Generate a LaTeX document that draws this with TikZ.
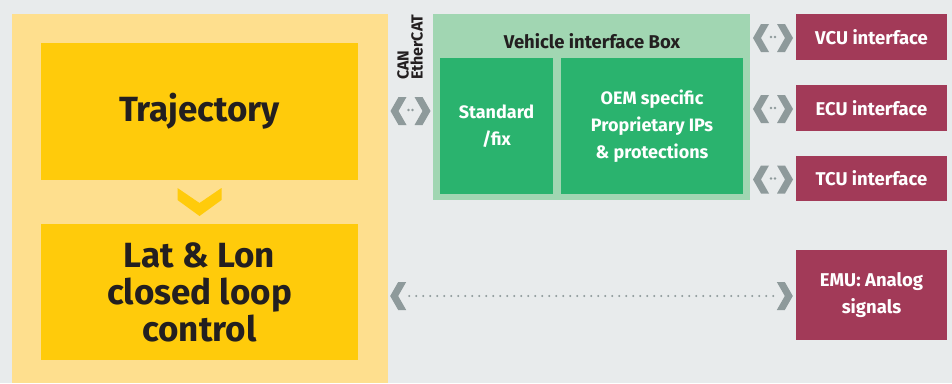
\documentclass[tikz,border=0pt]{standalone}
\usepackage{fontspec}
\setmainfont{Fira Sans}
\usetikzlibrary{calc}

\definecolor{bggrey}{HTML}{E8EBEC}
\definecolor{paleyellow}{HTML}{FEDF8E}
\definecolor{sunyellow}{HTML}{FFCB0B}
\definecolor{palegreen}{HTML}{A1D6B2}
\definecolor{boxgreen}{HTML}{2AB36E}
\definecolor{crimson}{HTML}{A23A58}
\definecolor{linkgrey}{HTML}{8E9A9B}
\definecolor{ink}{HTML}{231F20}

\tikzset{
	box/.style={rectangle, inner sep=0pt, align=center, font=\bfseries},
	ctrlbox/.style={box, fill=sunyellow, text=ink, minimum width=317, minimum height=136,
		font=\bfseries\fontsize{35}{37}\selectfont},
	ifbox/.style={box, fill=boxgreen, text=white, minimum height=136,
		font=\bfseries\fontsize{18}{27}\selectfont},
	ecubox/.style={box, fill=crimson, text=white, minimum width=151, minimum height=46,
		font=\bfseries\fontsize{18.5}{27}\selectfont},
	dotline/.style={linkgrey, line width=2.2, line cap=round, dash pattern=on 0pt off 7pt},
	chevL/.pic={\fill[linkgrey] (0,0) -- (8,-14) -- (16,-14) -- (8,0) -- (16,14) -- (8,14) -- cycle;},
	chevR/.pic={\fill[linkgrey] (0,0) -- (-8,-14) -- (-16,-14) -- (-8,0) -- (-16,14) -- (-8,14) -- cycle;},
	plug/.pic={
		\pic at (-20,0) {chevL};
		\pic at (20,0) {chevR};
		\fill[linkgrey] (-2,-1) circle (1.3) (2,-1) circle (1.3);
	}
}

\begin{document}
\begin{tikzpicture}[x=1pt, y=-1pt]
			\fill[bggrey] (0,0) rectangle (952,383);
			\useasboundingbox (0,0) rectangle (952,383);

			% control side
			\node[box, fill=paleyellow, minimum width=376, minimum height=369] (panel) at (200,198.5) {};
			\node[ctrlbox, minimum height=137] (traj) at (199.5,111.5) {Trajectory};
			\node[ctrlbox] (lat) at (199.5,292) {Lat \& Lon\\closed loop\\control};
			\fill[sunyellow] ($(traj.south)!0.5!(lat.north)$) ++(-22,-14) -- ++(22,15) -- ++(22,-15)
				-- ++(0,12) -- ++(-22,16) -- ++(-22,-16) -- cycle;

			% vehicle interface box
			\node[box, fill=palegreen, minimum width=317, minimum height=186] (vib) at (591.5,107) {};
			\node[box, text=ink, font=\bfseries\fontsize{18.5}{20}\selectfont] (vibtitle) at (592,41) {Vehicle interface Box};
			\node[ifbox, minimum width=113] (std) at (496.5,126) {Standard\\/fix};
			\node[ifbox, minimum width=182] (oem) at (652,126) {OEM specific\\Proprietary IPs\\\& protections};
			\node[box, text=ink, rotate=90, anchor=west, align=left,
				font=\bfseries\fontsize{16}{14}\selectfont] (bus) at (410,80) {CAN\\EtherCAT};

			% ECUs
			\node[ecubox] (vcu) at (871.5,37) {VCU interface};
			\node[ecubox] (ecu) at (871.5,108) {ECU interface};
			\node[ecubox, minimum height=45] (tcu) at (871.5,178.5) {TCU interface};
			\node[ecubox, minimum height=90] (emu) at (871.5,295) {EMU: Analog\\signals};

			% links
			\pic at ($(panel.east |- vib.center)!0.5!(vib.west)+(0,4)$) {plug};
			\pic at ($(vib.east |- vcu.west)!0.5!(vcu.west)+(0,1)$) {plug};
			\pic at ($(vib.east |- ecu.west)!0.5!(ecu.west)+(0,1)$) {plug};
			\pic at ($(vib.east |- tcu.west)!0.5!(tcu.west)+(0,1)$) {plug};

			\coordinate (emuA) at ($(panel.east |- emu.west)+(2,1)$);
			\coordinate (emuB) at ($(emu.west)+(-3,1)$);
			\draw[dotline, shorten <=19, shorten >=19] (emuA) -- (emuB);
			\pic at (emuA) {chevL};
			\pic at (emuB) {chevR};
\end{tikzpicture}
\end{document}
